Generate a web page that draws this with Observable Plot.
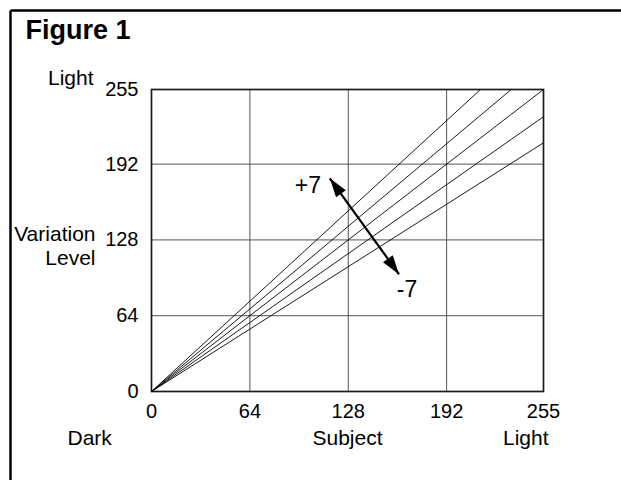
<!DOCTYPE html>
<html>
<head>
<meta charset="utf-8">
<script src="https://cdn.jsdelivr.net/npm/d3@7"></script>
<script src="https://cdn.jsdelivr.net/npm/@observablehq/plot@0.6"></script>
<style>
  html, body { margin: 0; padding: 0; background: #fff; }
  #chart { width: 621px; height: 480px; }
</style>
</head>
<body>
<div id="chart"></div>
<script>
// ---- data ----
const axisTicks = [0, 64, 128, 192, 255];
const fanOrigin = [0, 0];                       // subject, level
const fanSubjectEnd = [214, 234, 255, 255, 255];
const fanLevelEnd = [255, 255, 255, 232, 210];
const arrowSubject = [116, 161];                // +7 end, -7 end
const arrowLevel = [180, 99];
const arrowLabels = ["+7", "-7"];
const titleText = "Figure 1";
const yLabelTop = "Light";
const yLabelMid = "Variation\nLevel";
const xLabels = ["Dark", "Subject", "Light"];

// ---- layout ----
const W = 621, H = 480;
const mL = 151, mR = 78, mT = 89, mB = 89;
const font = "'Liberation Sans', Arial, Helvetica, sans-serif";

const fan = fanSubjectEnd.map((s, i) => ({x1: fanOrigin[0], y1: fanOrigin[1], x2: s, y2: fanLevelEnd[i]}));
const arrow = [{x1: arrowSubject[0], y1: arrowLevel[0], x2: arrowSubject[1], y2: arrowLevel[1]}];
const heads = [0, 1].map(i => ({x: arrowSubject[i], y: arrowLevel[i]}));

// rotation of each arrowhead in screen space
const kx = (W - mL - mR) / 255, ky = (H - mT - mB) / 255;
function headAngle(i) {
  const j = 1 - i;
  const ux = (arrowSubject[i] - arrowSubject[j]) * kx;
  const uy = -(arrowLevel[i] - arrowLevel[j]) * ky;
  return Math.atan2(ux, -uy) * 180 / Math.PI;
}
const headSymbol = {
  draw(ctx) {
    const L = 19, Wd = 12;
    ctx.moveTo(0, 0);
    ctx.lineTo(-Wd / 2, L);
    ctx.lineTo(Wd / 2, L);
    ctx.closePath();
  }
};

const chart = Plot.plot({
  width: W, height: H,
  marginLeft: mL, marginRight: mR, marginTop: mT, marginBottom: mB,
  style: {fontFamily: font, fontSize: "20px", color: "#000", background: "#fff"},
  x: {domain: [0, 255], ticks: axisTicks},
  y: {domain: [0, 255], ticks: axisTicks},
  marks: [
    Plot.gridX(axisTicks, {stroke: "#555", strokeOpacity: 1, strokeWidth: 1}),
    Plot.gridY(axisTicks, {stroke: "#555", strokeOpacity: 1, strokeWidth: 1}),
    Plot.frame({stroke: "#1a1a1a", strokeWidth: 1.7}),
    Plot.axisX(axisTicks, {tickSize: 0, tickPadding: 12, fontSize: 20, label: null}),
    Plot.axisY(axisTicks, {tickSize: 0, tickPadding: 13, fontSize: 20, label: null}),
    Plot.link(fan, {x1: "x1", y1: "y1", x2: "x2", y2: "y2", stroke: "#000", strokeWidth: 0.9}),
    Plot.link(arrow, {x1: "x1", y1: "y1", x2: "x2", y2: "y2", stroke: "#000", strokeWidth: 2.2}),
    Plot.dot([heads[0]], {x: "x", y: "y", symbol: headSymbol, rotate: headAngle(0), fill: "#000", stroke: "none", r: 5}),
    Plot.dot([heads[1]], {x: "x", y: "y", symbol: headSymbol, rotate: headAngle(1), fill: "#000", stroke: "none", r: 5}),
    Plot.text([arrowLabels[0]], {x: () => arrowSubject[0], y: () => arrowLevel[0], text: d => d, dx: -22, dy: 7, fontSize: 23}),
    Plot.text([arrowLabels[1]], {x: () => arrowSubject[1], y: () => arrowLevel[1], text: d => d, dx: 8, dy: 15, fontSize: 23}),
    // title & outer labels
    Plot.text([titleText], {frameAnchor: "top-left", text: d => d, dx: 25 - mL, dy: 30 - mT, textAnchor: "start", lineAnchor: "middle", fontWeight: "bold", fontSize: 27}),
    Plot.text([yLabelTop], {frameAnchor: "top-left", text: d => d, dx: 93 - mL, dy: 78 - mT, textAnchor: "end", lineAnchor: "middle", fontSize: 21}),
    Plot.text([yLabelMid], {frameAnchor: "left", text: d => d, dx: 95 - mL, dy: 4.5, textAnchor: "end", lineAnchor: "middle", lineHeight: 1.19, fontSize: 21}),
    Plot.text([xLabels[0]], {frameAnchor: "bottom-left", text: d => d, dx: 67 - mL, dy: 438 - (H - mB), lineAnchor: "middle", fontSize: 21}),
    Plot.text([xLabels[1]], {frameAnchor: "bottom", text: d => d, dx: 0, dy: 438 - (H - mB), lineAnchor: "middle", fontSize: 21}),
    Plot.text([xLabels[2]], {frameAnchor: "bottom-right", text: d => d, dx: 5, dy: 438 - (H - mB), lineAnchor: "middle", fontSize: 21})
  ]
});

// outer figure border (top and left edges)
const svg = d3.select(chart);
svg.append("line").attr("x1", 10.5).attr("y1", 10.5).attr("x2", W).attr("y2", 10.5)
  .attr("stroke", "#000").attr("stroke-width", 2.5);
svg.append("line").attr("x1", 10.5).attr("y1", 10.5).attr("x2", 10.5).attr("y2", H)
  .attr("stroke", "#000").attr("stroke-width", 2.5);

document.getElementById("chart").appendChild(chart);
</script>
</body>
</html>
